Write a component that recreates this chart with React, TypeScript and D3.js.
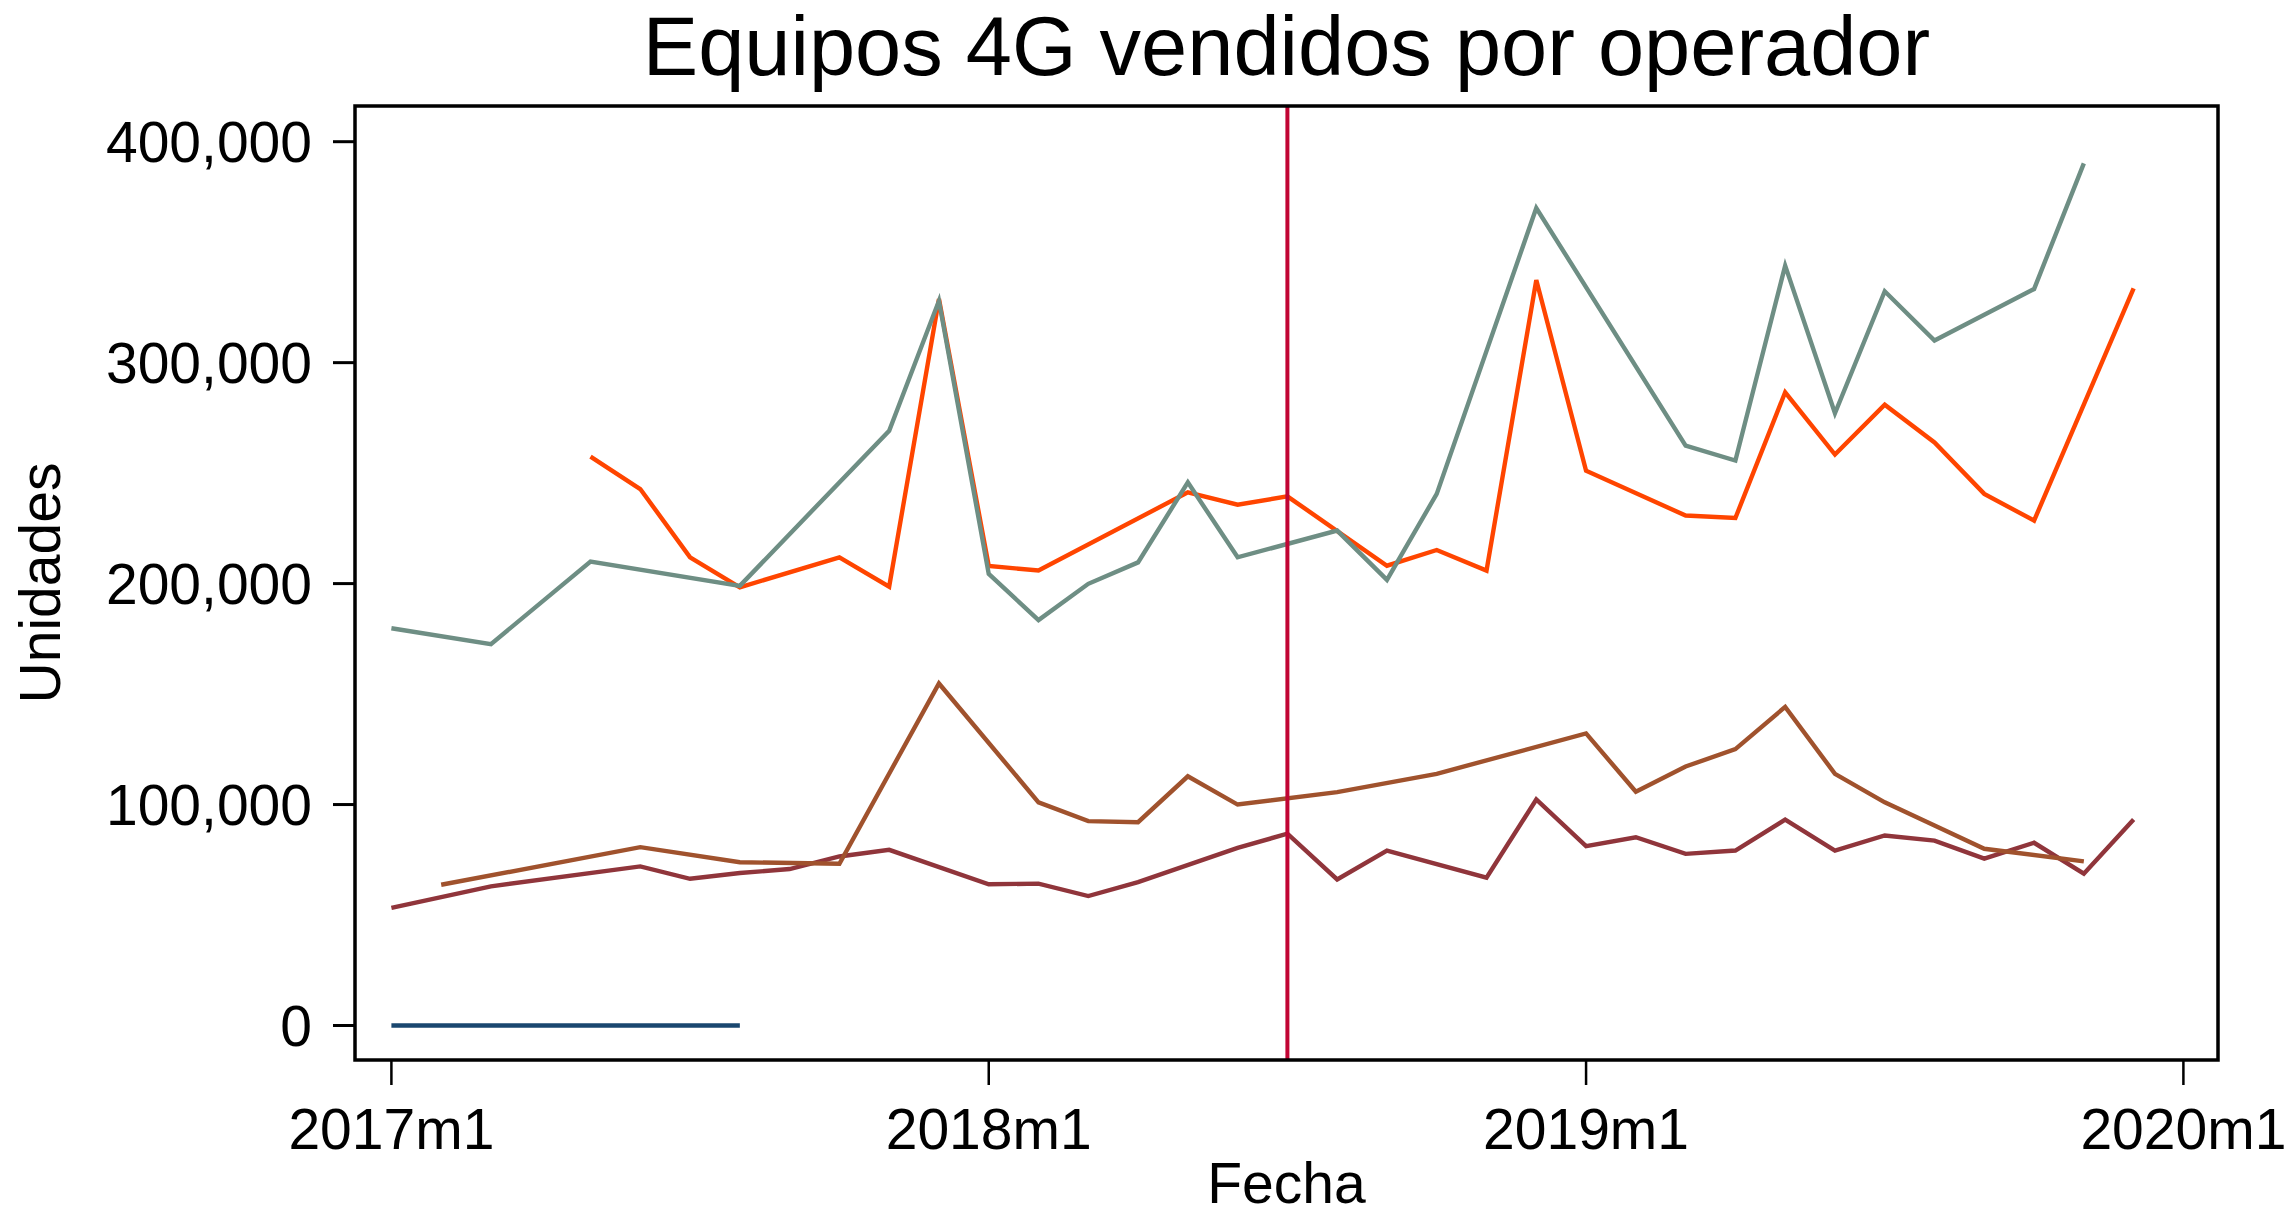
import React, { useRef, useEffect } from 'react';
import * as d3 from 'd3';

const title = 'Equipos 4G vendidos por operador';
const xTitle = 'Fecha';
const yTitle = 'Unidades';

// months counted from 2017m1 (= 0)
const xTickMonths = [0, 12, 24, 36];
const xTickLabels = ['2017m1', '2018m1', '2019m1', '2020m1'];
const yTicks = [0, 100000, 200000, 300000, 400000];
const eventMonth = 18; // 2018m7

const navyMonths = [0, 1, 2, 3, 4, 5, 6, 7];
const navyValues = [0, 0, 0, 0, 0, 0, 0, 0];

const maroonMonths = [0, 2, 5, 6, 7, 8, 9, 10, 12, 13, 14, 15, 17, 18, 19, 20, 22, 23, 24, 25, 26, 27, 28, 29, 30, 31, 32, 33, 34, 35];
const maroonValues = [53200, 63000, 72000, 66400, 69000, 70800, 76500, 79500, 63900, 64200, 58600, 64900, 80400, 86800, 66100, 79200, 66900, 102300, 81200, 85200, 77700, 79200, 93200, 79200, 86000, 83700, 75500, 82700, 68700, 93200];

const siennaMonths = [1, 5, 7, 9, 11, 13, 14, 15, 16, 17, 19, 21, 24, 25, 26, 27, 28, 29, 30, 31, 32, 34];
const siennaValues = [63700, 80700, 73900, 73200, 154800, 101000, 92500, 92000, 112800, 100000, 105600, 113900, 132200, 105800, 117200, 125100, 144200, 113900, 101000, 90500, 80000, 74300];

const orangeMonths = [4, 5, 6, 7, 9, 10, 11, 12, 13, 16, 17, 18, 20, 21, 22, 23, 24, 26, 27, 28, 29, 30, 31, 32, 33, 35];
const orangeValues = [257500, 242800, 211900, 198300, 211900, 198600, 328800, 208000, 205900, 241300, 235700, 239500, 208100, 215200, 205900, 337400, 251100, 230800, 229700, 286600, 258400, 281000, 263900, 240600, 228500, 333600];

const tealMonths = [0, 2, 4, 7, 10, 11, 12, 13, 14, 15, 16, 17, 19, 20, 21, 23, 26, 27, 28, 29, 30, 31, 33, 34];
const tealValues = [179800, 172600, 210000, 199000, 269200, 328000, 204400, 183500, 199900, 209600, 245800, 211900, 224000, 201700, 240600, 370000, 262400, 255700, 343900, 277100, 332300, 310000, 333300, 390200];

const series = [
  { months: navyMonths, values: navyValues, color: '#1a476f' },
  { months: maroonMonths, values: maroonValues, color: '#90353b' },
  { months: siennaMonths, values: siennaValues, color: '#a0522d' },
  { months: orangeMonths, values: orangeValues, color: '#ff4500' },
  { months: tealMonths, values: tealValues, color: '#6e8e84' },
];

const W = 2290;
const H = 1217;
const font = '"Liberation Sans", Arial, Helvetica, sans-serif';

function App() {
  const ref = useRef<SVGSVGElement>(null);

  useEffect(() => {
    if (!ref.current) return;
    const svg = d3.select(ref.current);
    svg.selectAll('*').remove();

    // plot region
    const frame = { left: 355, right: 2218, top: 106, bottom: 1060 };

    const x = d3.scaleLinear().domain([0, 36]).range([391.4, 2183.4]);
    const y = d3.scaleLinear().domain([0, 400000]).range([1025.5, 141.7]);

    svg.append('rect').attr('width', W).attr('height', H).attr('fill', '#fff');

    const line = d3.line<[number, number]>()
      .x(d => x(d[0]))
      .y(d => y(d[1]));

    series.forEach(s => {
      const pts = s.months.map((m, i) => [m, s.values[i]] as [number, number]);
      svg.append('path')
        .attr('d', line(pts))
        .attr('fill', 'none')
        .attr('stroke', s.color)
        .attr('stroke-width', 4.4)
        .attr('stroke-linejoin', 'miter');
    });

    // vertical marker
    svg.append('line')
      .attr('x1', x(eventMonth)).attr('x2', x(eventMonth))
      .attr('y1', frame.top).attr('y2', frame.bottom)
      .attr('stroke', '#c10534')
      .attr('stroke-width', 4);

    // frame
    svg.append('rect')
      .attr('x', frame.left).attr('y', frame.top)
      .attr('width', frame.right - frame.left)
      .attr('height', frame.bottom - frame.top)
      .attr('fill', 'none')
      .attr('stroke', '#000')
      .attr('stroke-width', 3.5);

    // y axis
    const fmt = d3.format(',');
    const yg = svg.append('g');
    yg.selectAll('line').data(yTicks).join('line')
      .attr('x1', frame.left - 22).attr('x2', frame.left)
      .attr('y1', d => y(d)).attr('y2', d => y(d))
      .attr('stroke', '#000').attr('stroke-width', 3);
    yg.selectAll('text').data(yTicks).join('text')
      .attr('x', 312)
      .attr('y', d => y(d))
      .attr('dy', '0.36em')
      .attr('text-anchor', 'end')
      .attr('font-family', font)
      .attr('font-size', 57)
      .text(d => fmt(d));

    // x axis
    const xg = svg.append('g');
    xg.selectAll('line').data(xTickMonths).join('line')
      .attr('x1', d => x(d)).attr('x2', d => x(d))
      .attr('y1', frame.bottom).attr('y2', frame.bottom + 25)
      .attr('stroke', '#000').attr('stroke-width', 2.5);
    xg.selectAll('text').data(xTickMonths).join('text')
      .attr('x', d => x(d))
      .attr('y', 1149)
      .attr('text-anchor', 'middle')
      .attr('font-family', font)
      .attr('font-size', 57)
      .text((d, i) => xTickLabels[i]);

    // titles
    const cx = (frame.left + frame.right) / 2;
    svg.append('text')
      .attr('x', cx).attr('y', 75)
      .attr('text-anchor', 'middle')
      .attr('font-family', font)
      .attr('font-size', 83)
      .text(title);

    svg.append('text')
      .attr('x', cx).attr('y', 1203)
      .attr('text-anchor', 'middle')
      .attr('font-family', font)
      .attr('font-size', 57)
      .text(xTitle);

    svg.append('text')
      .attr('transform', `translate(60, ${(frame.top + frame.bottom) / 2}) rotate(-90)`)
      .attr('text-anchor', 'middle')
      .attr('font-family', font)
      .attr('font-size', 57)
      .text(yTitle);
  }, []);

  return (
    <svg
      ref={ref}
      width={W}
      height={H}
      style={{ position: 'absolute', left: 0, top: 0, display: 'block' }}
    />
  );
}

export default App;
